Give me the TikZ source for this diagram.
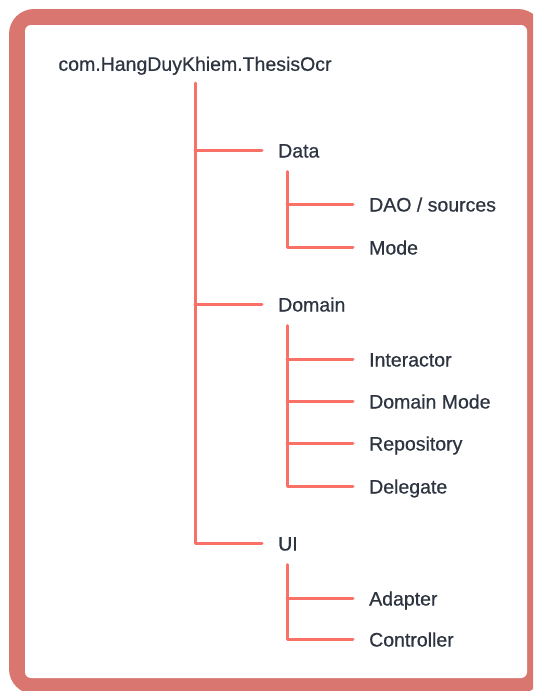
\documentclass[tikz,border=0pt]{standalone}
\usepackage{fontspec}
\setmainfont{Liberation Sans}[FakeBold=0.6]
\usetikzlibrary{positioning}
\definecolor{frame}{HTML}{D9766F}
\definecolor{branch}{HTML}{F87066}
\definecolor{ink}{HTML}{2D3440}
\tikzset{
  every picture/.style={line join=round, line cap=round},
  pkg/.style={anchor=west, inner sep=0pt, text height=15pt, text depth=0pt, text=ink, font=\fontsize{19.5}{22}\selectfont},
  link/.style={draw=branch, line width=3pt},
}

\begin{document}
\begin{tikzpicture}[x=1pt,y=-1pt]
\useasboundingbox (0,0) rectangle (533,691);
\clip (0,0) rectangle (533,691);
% frame
\fill[frame,rounded corners=25pt](9,9) rectangle (543,694);
\fill[white,rounded corners=6pt](25,25) rectangle (527,678);
% packages
\node[pkg,anchor=south] (root) at (195,71) {com.HangDuyKhiem.ThesisOcr};
\node[pkg] (data) at (278,150) {Data};
\node[pkg] (dao) at (369,204) {DAO / sources};
\node[pkg] (mode) at (369,247) {Mode};
\node[pkg] (domain) at (278,304) {Domain};
\node[pkg] (inter) at (369,359) {Interactor};
\node[pkg] (dmode) at (369,401) {Domain Mode};
\node[pkg] (repo) at (369,443) {Repository};
\node[pkg] (deleg) at (369,486) {Delegate};
\node[pkg] (ui) at (278,543) {UI};
\node[pkg] (adapt) at (369,598) {Adapter};
\node[pkg] (ctrl) at (369,639) {Controller};
% trunks
\coordinate (rootTop) at ([yshift=-12pt]root.south);
\coordinate (dataTop) at ([xshift=9pt,yshift=-14pt]data.south west);
\coordinate (domainTop) at ([xshift=9pt,yshift=-14pt]domain.south west);
\coordinate (uiTop) at ([xshift=9pt,yshift=-14pt]ui.south west);
\draw[link](rootTop)|-([xshift=-16pt]ui.west);
\draw[link](rootTop|-data.west)--([xshift=-16pt]data.west)
(rootTop|-domain.west)--([xshift=-16pt]domain.west);
\draw[link](dataTop)|-([xshift=-16pt]mode.west)
(dataTop|-dao.west)--([xshift=-16pt]dao.west);
\draw[link](domainTop)|-([xshift=-16pt]deleg.west)
(domainTop|-inter.west)--([xshift=-16pt]inter.west)
(domainTop|-dmode.west)--([xshift=-16pt]dmode.west)
(domainTop|-repo.west)--([xshift=-16pt]repo.west);
\draw[link](uiTop)|-([xshift=-16pt]ctrl.west)
(uiTop|-adapt.west)--([xshift=-16pt]adapt.west);
\end{tikzpicture}
\end{document}
